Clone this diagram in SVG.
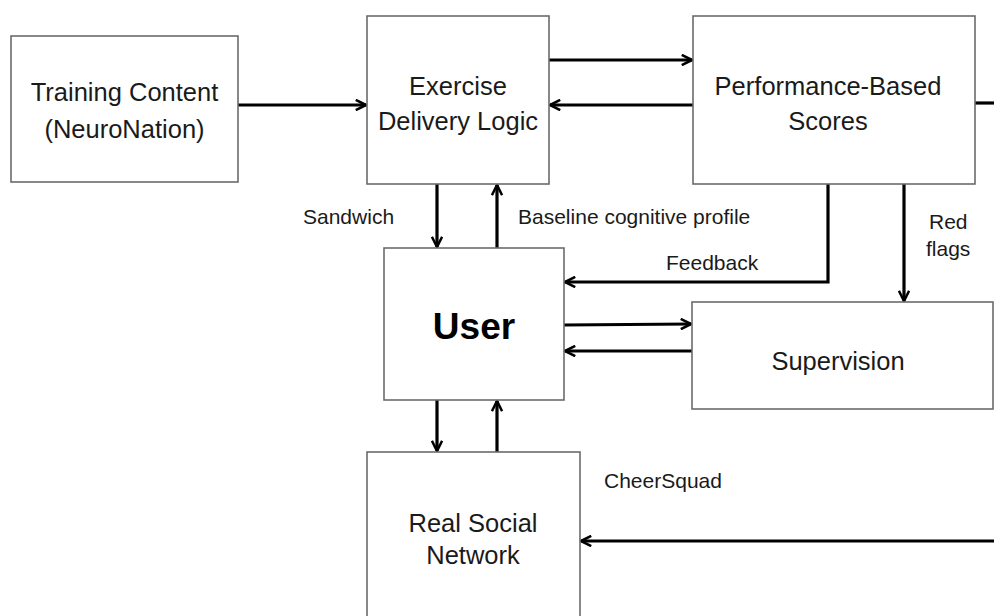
<svg xmlns="http://www.w3.org/2000/svg" width="994" height="616" viewBox="0 0 994 616">
<style>
.box{fill:#fff;stroke:#6b6b6b;stroke-width:1.6}
.t{font-family:"Liberation Sans",Arial,sans-serif;font-size:25.5px;fill:#1a1a1a;text-anchor:middle}
.l{font-family:"Liberation Sans",Arial,sans-serif;font-size:21px;fill:#1a1a1a}
.c{fill:none;stroke:#000;stroke-width:3.2}
</style>
<defs>
<marker id="a" viewBox="0 0 10 10" refX="9" refY="5" markerWidth="4" markerHeight="4" orient="auto" markerUnits="strokeWidth">
<path d="M1,1 L9,5 L1,9" fill="none" stroke="#000" stroke-width="2"/>
</marker>
</defs>
<rect width="994" height="616" fill="#fff"/>
<g id="connectors">
<line class="c" x1="238" y1="105" x2="366" y2="105" marker-end="url(#a)"/>
<line class="c" x1="549" y1="60" x2="692" y2="60" marker-end="url(#a)"/>
<line class="c" x1="693" y1="105" x2="550" y2="105" marker-end="url(#a)"/>
<line class="c" x1="975" y1="103" x2="994" y2="103"/>
<line class="c" x1="437" y1="184" x2="437" y2="247" marker-end="url(#a)"/>
<line class="c" x1="497" y1="248" x2="497" y2="185" marker-end="url(#a)"/>
<polyline class="c" points="828,184 828,282 565,282" marker-end="url(#a)"/>
<line class="c" x1="904" y1="184" x2="904" y2="301" marker-end="url(#a)"/>
<line class="c" x1="564" y1="325" x2="691" y2="324" marker-end="url(#a)"/>
<line class="c" x1="692" y1="351" x2="565" y2="351" marker-end="url(#a)"/>
<line class="c" x1="437" y1="400" x2="437" y2="451" marker-end="url(#a)"/>
<line class="c" x1="497" y1="452" x2="497" y2="401" marker-end="url(#a)"/>
<line class="c" x1="994" y1="541" x2="581" y2="541" marker-end="url(#a)"/>
<text class="l" x="303" y="224">Sandwich</text>
<text class="l" x="518" y="224">Baseline cognitive profile</text>
<text class="l" x="666" y="270">Feedback</text>
<text class="l" x="929" y="229">Red</text>
<text class="l" x="926" y="256">flags</text>
<text class="l" x="604" y="488">CheerSquad</text>
</g>
<g id="training">
<rect class="box" x="11" y="36" width="227" height="146"/>
<text class="t" x="124.5" y="101">Training Content</text>
<text class="t" x="124.5" y="138">(NeuroNation)</text>
</g>
<g id="exercise">
<rect class="box" x="367" y="16" width="182" height="168"/>
<text class="t" x="458" y="95">Exercise</text>
<text class="t" x="458" y="130">Delivery Logic</text>
</g>
<g id="performance">
<rect class="box" x="693" y="16" width="282" height="168"/>
<text class="t" x="828" y="95">Performance-Based</text>
<text class="t" x="828" y="130">Scores</text>
</g>
<g id="user">
<rect class="box" x="384" y="248" width="180" height="152"/>
<text class="t" x="474" y="339" style="font-size:37px;font-weight:bold;fill:#000">User</text>
</g>
<g id="supervision">
<rect class="box" x="692" y="302" width="301" height="107"/>
<text class="t" x="838" y="370">Supervision</text>
</g>
<g id="social">
<rect class="box" x="367" y="452" width="213" height="170"/>
<text class="t" x="473" y="532">Real Social</text>
<text class="t" x="473" y="564">Network</text>
</g>
</svg>
